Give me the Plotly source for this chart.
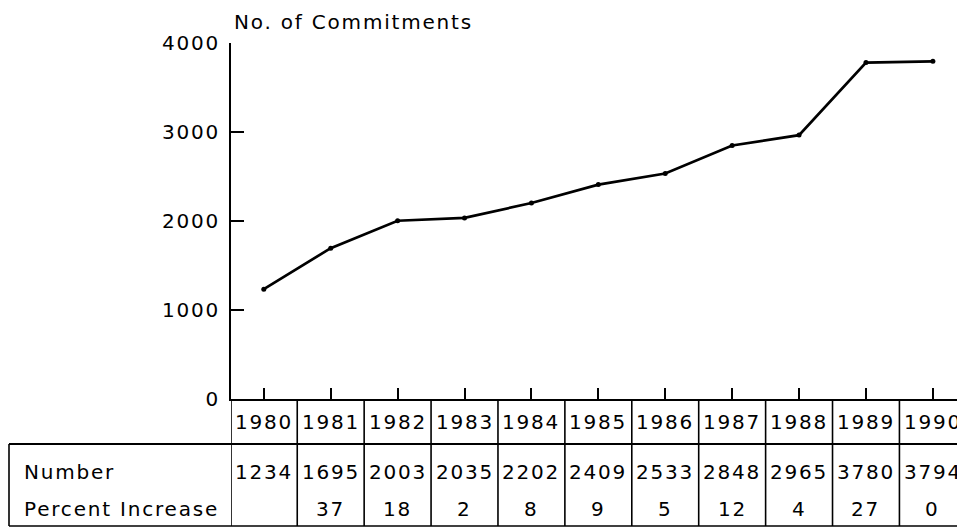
import plotly.graph_objects as go

years = [1980, 1981, 1982, 1983, 1984, 1985, 1986, 1987, 1988, 1989, 1990]
commitments = [1234, 1695, 2003, 2035, 2202, 2409, 2533, 2848, 2965, 3780, 3794]
pct_increase = ["", "37", "18", "2", "8", "9", "5", "12", "4", "27", "0"]
y_ticks = [0, 1000, 2000, 3000, 4000]
row_labels = ["Number", "Percent Increase"]
title_text = "No. of Commitments"

FONT = "DejaVu Sans"
FS = 20
LS = "1.8px"
# the page body adds an 8px offset, so the figure is drawn 8px smaller
W, H = 957, 520
L, R, T, B = 223, 0, 35, 129
plot_h = H - T - B
plot_w = W - L - R
OFF = 8


def py(p):
    # screen pixel row -> paper y
    return (H - B - (p - OFF)) / plot_h


def px(p):
    return ((p - OFF) - L) / plot_w


def sp(s):
    return f'<span style="letter-spacing:{LS}">{s}</span>'


fig = go.Figure()
fig.add_trace(go.Scatter(
    x=years, y=commitments, mode="lines+markers",
    line=dict(color="black", width=2.7),
    marker=dict(color="black", size=5),
    hoverinfo="skip", showlegend=False,
))

x0 = years[0] - 0.49
x1 = years[-1] + 0.48

y_year = py(422)
y_rowtop = py(444)
y_num = py(472)
y_pct = py(509)
y_bot = py(526)
x_left = px(9)
x_lab = px(22)

shapes = []
lw = 1.6
shapes.append(dict(type="line", xref="paper", yref="paper", x0=x_left, x1=1, y0=y_rowtop, y1=y_rowtop,
                   line=dict(color="black", width=2)))
shapes.append(dict(type="line", xref="paper", yref="paper", x0=x_left, x1=1, y0=y_bot, y1=y_bot,
                   line=dict(color="black", width=lw)))
shapes.append(dict(type="line", xref="paper", yref="paper", x0=x_left, x1=x_left, y0=y_rowtop, y1=y_bot,
                   line=dict(color="black", width=lw)))
for yr in years:
    xs = max(yr - 0.5, x0)
    shapes.append(dict(type="line", xref="x", yref="paper", x0=xs, x1=xs, y0=0, y1=y_bot,
                       line=dict(color="black", width=lw)))

font = dict(family=FONT, size=FS, color="black")
annotations = []
for yr, n, p in zip(years, commitments, pct_increase):
    annotations.append(dict(x=yr, y=y_year, xref="x", yref="paper", text=sp(yr), showarrow=False,
                            font=font, xanchor="center", yanchor="middle"))
    annotations.append(dict(x=yr, y=y_num, xref="x", yref="paper", text=sp(n), showarrow=False,
                            font=font, xanchor="center", yanchor="middle"))
    if p:
        annotations.append(dict(x=yr, y=y_pct, xref="x", yref="paper", text=sp(p), showarrow=False,
                                font=font, xanchor="center", yanchor="middle"))
for lab, yy in zip(row_labels, [y_num, y_pct]):
    annotations.append(dict(x=x_lab, y=yy, xref="paper", yref="paper", text=sp(lab), showarrow=False,
                            font=font, xanchor="left", yanchor="middle"))
annotations.append(dict(x=px(233), y=py(OFF + 1), xref="paper", yref="paper", text=sp(title_text),
                        showarrow=False, font=font, xanchor="left", yanchor="top", borderpad=0))

fig.update_layout(
    width=W, height=H,
    margin=dict(l=L, r=R, t=T, b=B, pad=0),
    paper_bgcolor="white", plot_bgcolor="white",
    shapes=shapes, annotations=annotations,
    xaxis=dict(range=[x0, x1], tickvals=years, ticktext=["" for _ in years], ticks="inside",
               ticklen=11, tickwidth=1.6, tickcolor="black", showgrid=False, zeroline=False,
               showline=True, linecolor="black", linewidth=2, fixedrange=True),
    yaxis=dict(range=[0, 4000], tickvals=y_ticks, ticktext=[sp(v) for v in y_ticks],
               ticks="inside", ticklen=13, tickwidth=2,
               tickcolor="black", showgrid=False, zeroline=False, showline=True, linecolor="black",
               linewidth=2, tickfont=font, ticklabelstandoff=5, fixedrange=True),
    font=font,
)

fig.write_html("out.html")
